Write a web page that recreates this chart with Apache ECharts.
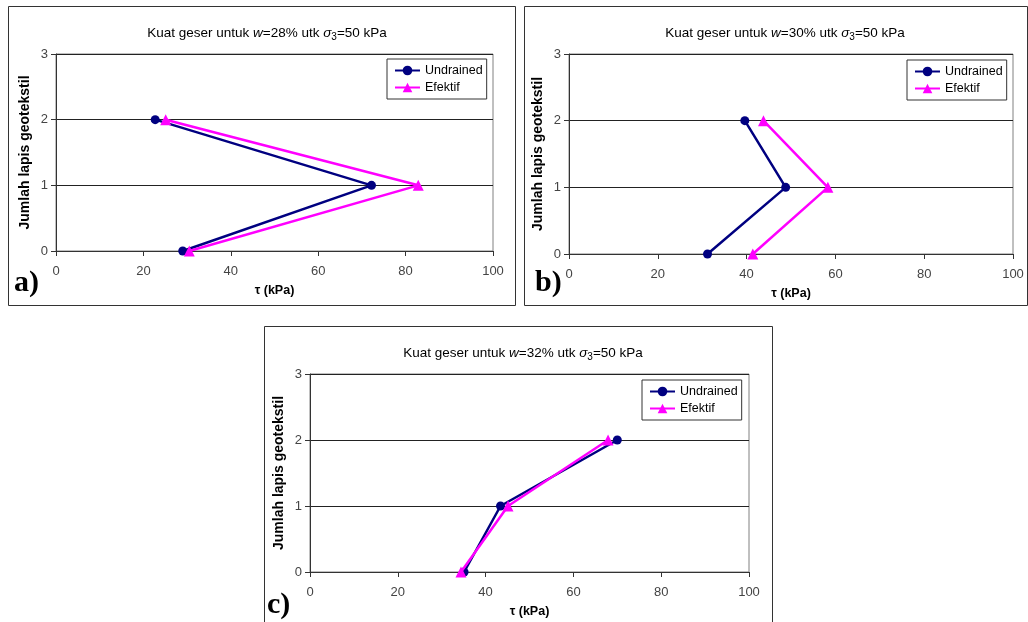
<!DOCTYPE html>
<html>
<head>
<meta charset="utf-8">
<script src="https://cdn.jsdelivr.net/npm/echarts@6/dist/echarts.min.js"></script>
<style>
html,body{margin:0;padding:0;background:#fff;}
#c{width:1028px;height:622px;}
</style>
</head>
<body>
<div id="c"></div>
<script>
// Data
var layers = [0, 1, 2];
var undrainedA = [29.0, 72.2, 22.7];
var efektifA   = [30.5, 82.9, 25.1];
var undrainedB = [31.2, 48.8, 39.6];
var efektifB   = [41.4, 58.3, 43.8];
var undrainedC = [35.1, 43.4, 70.0];
var efektifC   = [34.4, 45.1, 67.9];
var waterContents = ['28%', '30%', '32%'];
var panelLabels = ['a)', 'b)', 'c)'];

var FONT = '"Liberation Sans", Arial, sans-serif';
var NAVY = '#000080';
var MAG = '#FF00FF';

function pairs(xs) { return xs.map(function (v, i) { return [v, layers[i]]; }); }

var grids = [
  {left: 56, top: 54, width: 437, height: 197},
  {left: 569, top: 54, width: 444, height: 200},
  {left: 310, top: 374, width: 439, height: 198}
];
var titlePos = [{x: 262, y: 19}, {x: 780, y: 19}, {x: 518, y: 339}];
var legendPos = [
  {left: 387, top: 59},
  {left: 907, top: 60},
  {left: 642, top: 380}
];
var series = [[undrainedA, efektifA], [undrainedB, efektifB], [undrainedC, efektifC]];

var option = {
  animation: false,
  backgroundColor: '#fff',
  title: [], legend: [], grid: [], xAxis: [], yAxis: [], series: [],
  graphic: []
};

// panel borders
option.graphic.push({type: 'rect', shape: {x: 8.5, y: 6.5, width: 507, height: 299}, style: {fill: 'none', stroke: '#333', lineWidth: 1}, z: -1});
option.graphic.push({type: 'rect', shape: {x: 524.5, y: 6.5, width: 503, height: 299}, style: {fill: 'none', stroke: '#333', lineWidth: 1}, z: -1});
option.graphic.push({type: 'rect', shape: {x: 264.5, y: 326.5, width: 508, height: 310}, style: {fill: 'none', stroke: '#333', lineWidth: 1}, z: -1});

var labelPos = [{x: 14, y: 268}, {x: 535, y: 268}, {x: 267, y: 590}];

for (var k = 0; k < 3; k++) {
  var g = grids[k];
  option.grid.push({left: g.left, top: g.top, width: g.width, height: g.height, show: true, borderColor: '#808080', borderWidth: 1, backgroundColor: 'transparent', containLabel: false});
  option.title.push({
    text: 'Kuat geser untuk {i|w}=' + waterContents[k] + ' utk {i|σ}{sub|3}=50 kPa',
    left: titlePos[k].x, top: titlePos[k].y, textAlign: 'center',
    textStyle: {
      fontFamily: FONT, fontSize: 13.5, fontWeight: 'normal', color: '#000',
      rich: {
        i: {fontFamily: FONT, fontSize: 13.5, fontStyle: 'italic', color: '#000'},
        sub: {fontFamily: FONT, fontSize: 10, color: '#000', padding: [8, 0, 0, 0]}
      }
    }
  });
  option.xAxis.push({
    type: 'value', gridIndex: k, min: 0, max: 100, interval: 20,
    name: 'τ (kPa)', nameLocation: 'middle', nameGap: 33,
    nameTextStyle: {fontFamily: FONT, fontSize: 12.5, fontWeight: 'bold', color: '#000'},
    axisLine: {show: true, lineStyle: {color: '#333', width: 1}},
    axisTick: {show: true, inside: false, length: 5, lineStyle: {color: '#333'}},
    axisLabel: {fontFamily: FONT, fontSize: 13, color: '#444', margin: 14},
    splitLine: {show: false}
  });
  option.yAxis.push({
    type: 'value', gridIndex: k, min: 0, max: 3, interval: 1,
    name: 'Jumlah lapis geotekstil', nameLocation: 'middle', nameGap: 24,
    nameTextStyle: {fontFamily: FONT, fontSize: 14, fontWeight: 'bold', color: '#000'},
    axisLine: {show: true, lineStyle: {color: '#333', width: 1}},
    axisTick: {show: true, length: 5, lineStyle: {color: '#333'}},
    axisLabel: {fontFamily: FONT, fontSize: 13, color: '#444', margin: 8},
    splitLine: {show: true, lineStyle: {color: '#222', width: 1}}
  });
  option.legend.push({
    left: legendPos[k].left, top: legendPos[k].top,
    orient: 'vertical',
    backgroundColor: '#fff', borderColor: '#333', borderWidth: 1,
    padding: [5, 4, 5, 7], itemGap: 4, itemWidth: 25, itemHeight: 12,
    textStyle: {fontFamily: FONT, fontSize: 12.5, color: '#000'},
    data: ['Undrained', 'Efektif'],
    selectedMode: false
  });
  option.series.push({
    name: 'Undrained', type: 'line', xAxisIndex: k, yAxisIndex: k,
    data: pairs(series[k][0]), symbol: 'circle', symbolSize: 9,
    lineStyle: {color: NAVY, width: 2.5}, itemStyle: {color: NAVY}, z: 3
  });
  option.series.push({
    name: 'Efektif', type: 'line', xAxisIndex: k, yAxisIndex: k,
    data: pairs(series[k][1]), symbol: 'triangle', symbolSize: 11,
    lineStyle: {color: MAG, width: 2.5}, itemStyle: {color: MAG}, z: 4
  });
  option.graphic.push({
    type: 'text', left: labelPos[k].x, top: labelPos[k].y,
    style: {text: panelLabels[k], font: 'bold 30px "Liberation Serif", "Times New Roman", serif', fill: '#000'}
  });
}

var chart = echarts.init(document.getElementById('c'), null, {renderer: 'canvas'});
chart.setOption(option);
</script>
</body>
</html>
